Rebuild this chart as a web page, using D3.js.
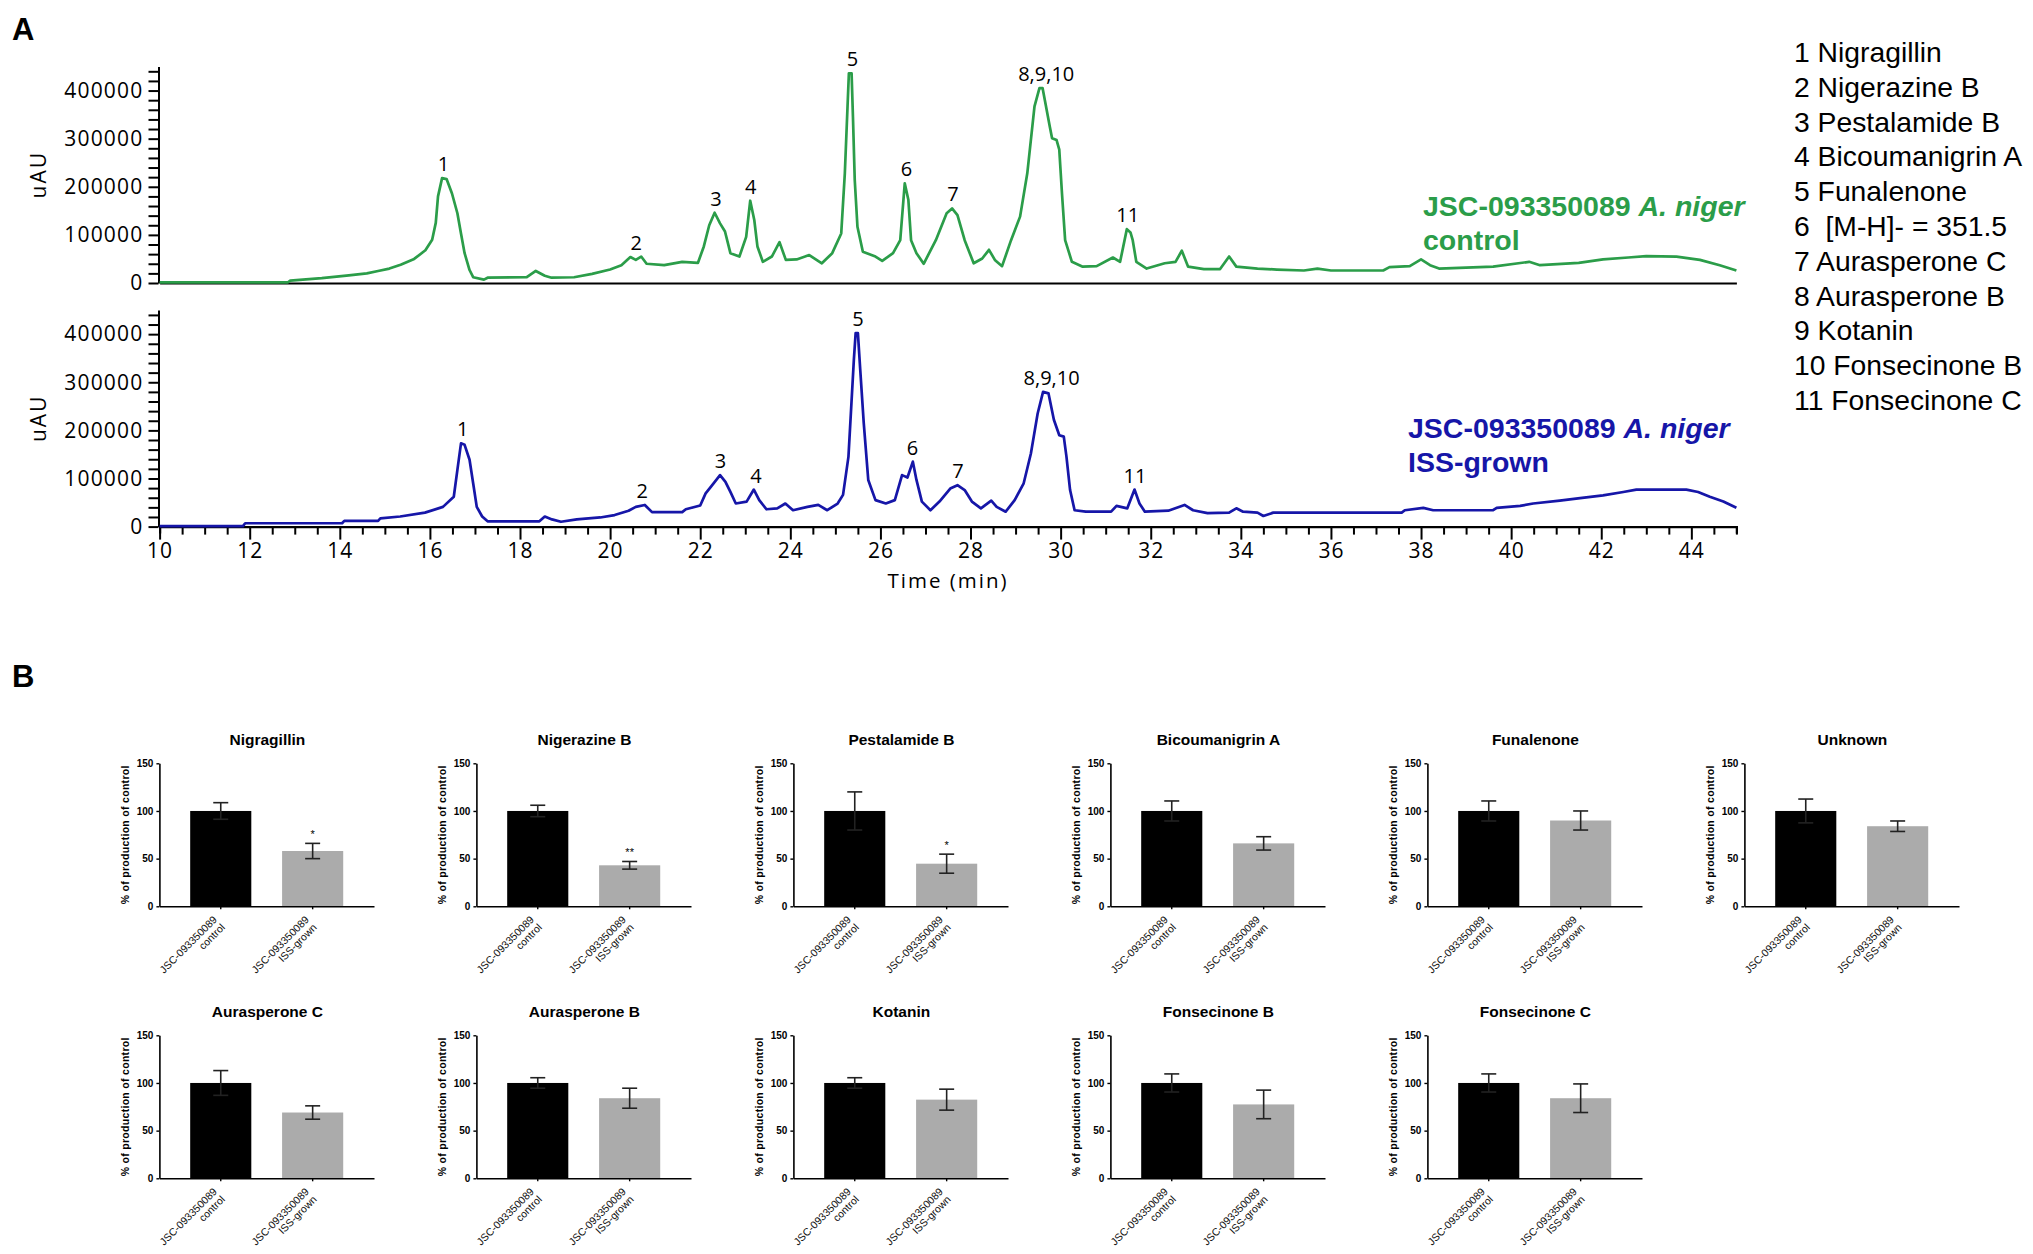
<!DOCTYPE html>
<html><head><meta charset="utf-8">
<script src="https://cdn.jsdelivr.net/npm/d3@7/dist/d3.min.js"></script>
<style>body{margin:0;background:#fff;} svg{display:block;} text{white-space:pre;}</style>
</head><body>
<svg id="chart" width="2033" height="1254"></svg>
<script>
// ---------- Panel A data ----------
const greenTime  = [10.0,12.85,12.9,13.6,14.2,14.6,14.85,15.1,15.35,15.65,15.9,16.05,16.13,16.18,16.27,16.37,16.49,16.61,16.69,16.77,16.88,16.96,17.2,17.28,18.15,18.35,18.55,18.7,19.2,19.6,20.0,20.25,20.45,20.57,20.69,20.81,21.2,21.6,21.95,22.08,22.2,22.32,22.44,22.55,22.67,22.87,23.02,23.11,23.2,23.27,23.39,23.59,23.76,23.9,24.14,24.42,24.7,24.93,25.13,25.21,25.27,25.3,25.36,25.39,25.43,25.49,25.61,25.89,26.04,26.28,26.44,26.54,26.62,26.68,26.8,26.96,27.23,27.47,27.59,27.71,27.87,28.07,28.26,28.41,28.54,28.7,28.9,29.1,29.26,29.42,29.53,29.6,29.65,29.76,29.81,29.91,29.97,30.03,30.1,30.25,30.49,30.8,31.16,31.32,31.47,31.55,31.6,31.68,31.91,32.31,32.55,32.69,32.83,33.18,33.54,33.74,33.9,34.37,34.8,35.4,35.7,36.0,37.16,37.3,37.75,38.0,38.2,38.4,39.6,40.4,40.64,41.5,42.04,42.6,43.0,43.67,44.19,44.63,45.0];
const greenValue = [1500,1500,5000,10000,16000,20000,25000,30000,38000,50000,68000,90000,125000,180000,218000,216000,186000,145000,103000,62000,27000,12000,7000,11000,12000,25000,15000,11000,12000,19000,28000,37000,54000,48000,55000,40000,37000,44000,42000,76000,120000,146000,124000,107000,62000,55000,96000,171000,131000,76000,44000,55000,85000,48000,49000,58000,41000,62000,103000,228000,367000,436000,436000,346000,214000,117000,65000,55000,46000,62000,89000,207000,173000,89000,62000,40000,89000,145000,155000,141000,89000,41000,51000,69000,48000,35000,89000,138000,228000,367000,405000,405000,380000,325000,301000,297000,277000,186000,89000,44000,34000,35000,53000,44000,112000,105000,89000,44000,30000,41000,44000,67000,34000,29000,29000,55000,34000,30000,28000,26000,30000,26000,26000,33000,35000,49000,37000,30000,34000,44000,37000,42000,49000,53000,56000,55000,48000,37000,26000];

const blueTime  = [10.0,11.85,11.9,14.05,14.1,14.85,14.9,15.34,15.89,16.29,16.53,16.61,16.69,16.77,16.88,16.96,17.04,17.16,17.28,18.43,18.55,18.71,18.91,19.26,19.78,20.1,20.41,20.57,20.77,20.93,21.6,21.68,22.0,22.12,22.24,22.44,22.56,22.67,22.79,23.03,23.19,23.31,23.47,23.71,23.89,24.06,24.38,24.62,24.82,25.05,25.17,25.29,25.41,25.45,25.5,25.55,25.63,25.73,25.89,26.12,26.32,26.48,26.6,26.72,26.8,26.92,27.11,27.31,27.55,27.71,27.87,28.03,28.23,28.46,28.58,28.78,28.98,29.18,29.34,29.49,29.61,29.73,29.85,29.97,30.07,30.13,30.21,30.31,30.56,31.12,31.24,31.48,31.64,31.75,31.87,32.39,32.75,32.94,33.26,33.74,33.9,34.05,34.37,34.5,34.72,37.57,37.64,38.05,38.27,39.6,39.68,40.2,40.49,41.08,41.53,42.04,42.49,42.78,43.89,44.15,44.41,44.71,45.0];
const blueValue = [1000,1000,7000,7000,12000,12000,17000,21000,29000,41000,62000,118000,173000,170000,139000,90000,41000,21000,11000,11000,21000,15000,10000,15000,19000,24000,33000,41000,45000,30000,30000,36000,44000,69000,83000,107000,93000,72000,48000,52000,77000,55000,36000,38000,48000,34000,41000,45000,34000,48000,66000,145000,346000,402000,402000,329000,215000,97000,55000,48000,55000,107000,102000,135000,97000,52000,34000,52000,79000,86000,76000,52000,38000,54000,41000,31000,55000,90000,152000,235000,280000,277000,222000,190000,187000,145000,76000,34000,31000,31000,43000,38000,77000,48000,31000,33000,45000,34000,28000,29000,38000,31000,29000,22000,29000,29000,34000,39000,34000,34000,39000,43000,48000,54000,59000,65000,72000,77000,77000,72000,62000,52000,39000];

const peakLabels      = ["1","2","3","4","5","6","7","8,9,10","11"];
const peakTimeControl = [16.3,20.58,22.35,23.12,25.38,26.58,27.61,29.68,31.49];
const peakHighControl = [218000,55000,146000,171000,436000,207000,155000,405000,112000];
const peakTimeISS     = [16.73,20.71,22.45,23.24,25.5,26.71,27.72,29.8,31.65];
const peakHighISS     = [173000,45000,107000,77000,402000,135000,86000,280000,77000];

const yTickLabels = ["0","100000","200000","300000","400000"];
const xTickLabels = ["10","12","14","16","18","20","22","24","26","28","30","32","34","36","38","40","42","44"];

const legendItems = ["1 Nigragillin","2 Nigerazine B","3 Pestalamide B","4 Bicoumanigrin A","5 Funalenone","6  [M-H]- = 351.5","7 Aurasperone C","8 Aurasperone B","9 Kotanin","10 Fonsecinone B","11 Fonsecinone C"];

// ---------- Panel B data ----------
const compounds   = ["Nigragillin","Nigerazine B","Pestalamide B","Bicoumanigrin A","Funalenone","Unknown","Aurasperone C","Aurasperone B","Kotanin","Fonsecinone B","Fonsecinone C"];
const groups      = ["control","ISS-grown"];
const controlMean = [100,100,100,100,100,100,100,100,100,100,100];
const controlErr  = [8.7,6,20,10.5,10.5,12.5,13,5.5,5.5,9.5,9.5];
const issMean     = [58,43,44.7,66,90,84,69,84,82.5,77.5,84];
const issErr      = [8,4,10,7,10,5.5,7,10.5,11,15,15];
const stars       = ["*","**","*","","","","","","","",""];
const barTicks    = [0,50,100,150];

// ---------- drawing ----------
const svg = d3.select("#chart");
const GREEN = "#2b9d49", BLUE = "#1616a8";
const chromFont = "'Open Sans', sans-serif";

const x = d3.scaleLinear().domain([10,45]).range([159.6,1736.4]);
const yTop = d3.scaleLinear().domain([0,450000]).range([283,66.5]);
const yBot = d3.scaleLinear().domain([0,450000]).range([526.6,310.1]);

function drawYAxis(y, cy) {
  const g = svg.append("g").attr("transform","translate(158.5,0)")
    .call(d3.axisLeft(y).tickValues(d3.range(0,450001,20000)).tickSize(10).tickSizeOuter(0).tickPadding(5)
      .tickFormat(d => d % 100000 === 0 ? yTickLabels[d/100000] : ""));
  g.select(".domain").attr("stroke","#000").attr("stroke-width",2);
  g.selectAll(".tick line").attr("stroke","#000").attr("stroke-width",2);
  g.selectAll(".tick text").attr("font-family",chromFont).attr("font-size",21)
    .attr("letter-spacing","1.2px").attr("fill","#000");
  svg.append("text").attr("transform",`translate(46,${cy}) rotate(-90)`)
    .attr("text-anchor","middle").attr("font-family",chromFont).attr("font-size",21)
    .attr("letter-spacing","2px").text("uAU");
}
drawYAxis(yTop, (yTop(0)+yTop(450000))/2);
drawYAxis(yBot, (yBot(0)+yBot(450000))/2);

// top x line
const gTopX = svg.append("g").attr("transform",`translate(0,${yTop(0)})`)
  .call(d3.axisBottom(x).tickValues([]).tickSizeOuter(0));
gTopX.select(".domain").attr("stroke","#000").attr("stroke-width",2.2);

// bottom x axis
const gX = svg.append("g").attr("transform",`translate(0,${yBot(0)})`)
  .call(d3.axisBottom(x).tickValues(d3.range(10,45.01,0.5)).tickSizeOuter(0).tickSize(7).tickPadding(9)
    .tickFormat(d => (Number.isInteger(d) && d % 2 === 0) ? xTickLabels[(d-10)/2] : ""));
gX.select(".domain").attr("stroke","#000").attr("stroke-width",2.2);
gX.selectAll(".tick line").attr("stroke","#000").attr("stroke-width",2)
  .attr("y2", d => (Number.isInteger(d) && d % 2 === 0) ? 13 : 8);
gX.selectAll(".tick text").attr("font-family",chromFont).attr("font-size",21)
  .attr("letter-spacing","1px").attr("fill","#000");
svg.append("text").attr("x",(x(10)+x(45))/2).attr("y",588).attr("text-anchor","middle")
  .attr("font-family",chromFont).attr("font-size",20.5).attr("letter-spacing","2px").text("Time (min)");

// chromatogram lines
const greenData = greenTime.map((t,i)=>[t,greenValue[i]]);
const blueData = blueTime.map((t,i)=>[t,blueValue[i]]);
svg.append("path").datum(greenData)
  .attr("d", d3.line().x(d=>x(d[0])).y(d=>yTop(d[1])))
  .attr("fill","none").attr("stroke",GREEN).attr("stroke-width",2.7).attr("stroke-linejoin","round");
svg.append("path").datum(blueData)
  .attr("d", d3.line().x(d=>x(d[0])).y(d=>yBot(d[1])))
  .attr("fill","none").attr("stroke",BLUE).attr("stroke-width",2.7).attr("stroke-linejoin","round");

// peak labels
function peakText(times, highs, y) {
  svg.append("g").selectAll("text").data(peakLabels).join("text")
    .attr("x",(d,i)=>x(times[i])).attr("y",(d,i)=>y(highs[i])-7)
    .attr("text-anchor","middle").attr("font-family",chromFont).attr("font-size",20).text(d=>d);
}
peakText(peakTimeControl, peakHighControl, yTop);
peakText(peakTimeISS, peakHighISS, yBot);

// sample labels
function sampleLabel(xp, y1, color, second) {
  const t = svg.append("text").attr("x",xp).attr("y",y1).attr("fill",color)
    .attr("font-family","'Liberation Sans', Arial, sans-serif").attr("font-weight","bold").attr("font-size",28.5);
  t.append("tspan").text("JSC-093350089 ");
  t.append("tspan").attr("font-style","italic").text("A. niger");
  svg.append("text").attr("x",xp).attr("y",y1+34).attr("fill",color)
    .attr("font-family","'Liberation Sans', Arial, sans-serif").attr("font-weight","bold").attr("font-size",28.5)
    .text(second);
}
sampleLabel(1423, 216, GREEN, "control");
sampleLabel(1408, 438, BLUE, "ISS-grown");

// legend
svg.append("g").selectAll("text").data(legendItems).join("text")
  .attr("x",1794).attr("y",(d,i)=>62+i*34.8)
  .attr("font-family","'Liberation Sans', Arial, sans-serif").attr("font-size",28.3).text(d=>d);

// panel letters
svg.append("text").attr("x",12).attr("y",40).attr("font-family","'Liberation Sans', Arial, sans-serif")
  .attr("font-weight","bold").attr("font-size",31).text("A");
svg.append("text").attr("x",12).attr("y",687).attr("font-family","'Liberation Sans', Arial, sans-serif")
  .attr("font-weight","bold").attr("font-size",31).text("B");

// ---------- Panel B bar charts ----------
const bFont = "'Liberation Sans', Arial, sans-serif";
compounds.forEach((name, i) => {
  const row = Math.floor(i/6), col = i % 6;
  const x0 = 159.4 + col*317;
  const yZero = 906.3 + row*272;
  const yMax = 763.3 + row*272;
  const y = d3.scaleLinear().domain([0,150]).range([yZero, yMax]);
  const xb = d3.scaleBand().domain(groups).range([x0, x0+214.6]).padding(0.335);
  const g = svg.append("g");
  const means = [controlMean[i], issMean[i]];
  const errs = [controlErr[i], issErr[i]];
  // bars
  g.selectAll("rect").data(groups).join("rect")
    .attr("x", d=>xb(d)).attr("width", xb.bandwidth())
    .attr("y",(d,j)=>y(means[j])).attr("height",(d,j)=>y(0)-y(means[j]))
    .attr("fill",(d,j)=> j===0 ? "#000" : "#ababab");
  // error bars
  groups.forEach((gname,j)=>{
    const cx = xb(gname)+xb.bandwidth()/2;
    const col2 = "#222";
    g.append("line").attr("x1",cx).attr("x2",cx).attr("y1",y(means[j]-errs[j])).attr("y2",y(means[j]+errs[j]))
      .attr("stroke",col2).attr("stroke-width",1.6);
    [means[j]-errs[j], means[j]+errs[j]].forEach(v=>{
      g.append("line").attr("x1",cx-7.5).attr("x2",cx+7.5).attr("y1",y(v)).attr("y2",y(v))
        .attr("stroke",col2).attr("stroke-width",1.6);
    });
  });
  // stars
  if (stars[i]) {
    g.append("text").attr("x", xb("ISS-grown")+xb.bandwidth()/2).attr("y", y(issMean[i]+issErr[i]) - 5)
      .attr("text-anchor","middle").attr("font-family",bFont).attr("font-size",11).text(stars[i]);
  }
  // axes
  const ga = g.append("g").attr("transform",`translate(${x0},0)`)
    .call(d3.axisLeft(y).tickValues(barTicks).tickSize(3).tickSizeOuter(0).tickPadding(3));
  ga.select(".domain").attr("stroke","#000").attr("stroke-width",1.6);
  ga.selectAll(".tick line").attr("stroke","#000").attr("stroke-width",1.4);
  ga.selectAll(".tick text").attr("font-family",bFont).attr("font-weight","bold").attr("font-size",10).attr("fill","#000");
  const gb = g.append("g").attr("transform",`translate(0,${yZero})`)
    .call(d3.axisBottom(xb).tickSize(3).tickSizeOuter(0).tickFormat(""));
  gb.select(".domain").attr("stroke","#000").attr("stroke-width",1.6);
  gb.selectAll(".tick line").attr("stroke","#000").attr("stroke-width",1.4);
  // rotated category labels
  groups.forEach(gname=>{
    const cx = xb(gname)+xb.bandwidth()/2;
    const t = g.append("text").attr("transform",`translate(${cx-3},${yZero+14}) rotate(-45)`)
      .attr("text-anchor","end").attr("font-family",bFont).attr("font-size",10.5).attr("fill","#111");
    t.append("tspan").attr("x",0).attr("y",0).text("JSC-093350089");
    t.append("tspan").attr("x",0).attr("y",11).text(gname);
  });
  // title
  g.append("text").attr("x",x0+108).attr("y",yMax-18).attr("text-anchor","middle")
    .attr("font-family",bFont).attr("font-weight","bold").attr("font-size",15.5).text(name);
  // y label
  g.append("text").attr("transform",`translate(${x0-30},${(yZero+yMax)/2}) rotate(-90)`)
    .attr("text-anchor","middle").attr("font-family",bFont).attr("font-weight","bold").attr("font-size",10.5)
    .attr("letter-spacing","0.3px").text("% of production of control");
});
</script>
</body></html>
